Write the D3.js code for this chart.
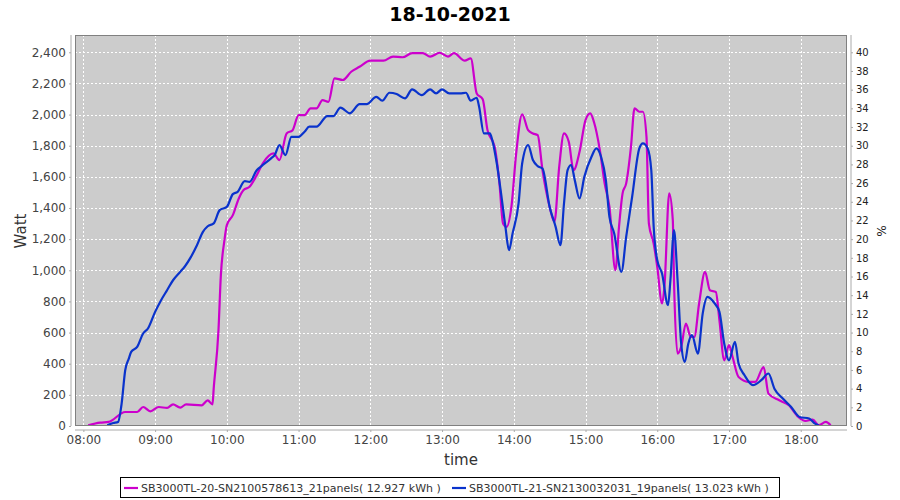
<!DOCTYPE html>
<html><head><meta charset="utf-8">
<script src="https://cdn.jsdelivr.net/npm/d3@7"></script>
<style>
body{margin:0;background:#fff;}
svg text{font-family:"DejaVu Sans",sans-serif;}
</style></head>
<body><svg id="c" width="900" height="500"></svg>
<script>
const title = "18-10-2021";
const seriesNames = ["SB3000TL-20-SN2100578613_21panels( 12.927 kWh )","SB3000TL-21-SN2130032031_19panels( 13.023 kWh )"];
const seriesColors = ["#cc00cc","#0a33cc"];
const magTimes = ["08:04","08:14","08:21","08:35","08:45","08:50","08:56","09:03","09:10","09:15","09:21","09:26","09:39","09:44","09:48","09:49","09:53","09:55","09:58","10:00","10:05","10:10","10:14","10:19","10:25","10:30","10:39","10:44","10:50","10:55","11:00","11:05","11:10","11:15","11:20","11:25","11:30","11:37","11:44","11:51","12:00","12:11","12:19","12:27","12:35","12:44","12:50","12:58","13:05","13:10","13:19","13:24","13:29","13:34","13:38","13:44","13:48","13:51","13:54","13:58","14:02","14:07","14:12","14:16","14:20","14:24","14:30","14:34","14:38","14:42","14:46","14:50","14:55","15:00","15:04","15:07","15:12","15:16","15:20","15:25","15:28","15:31","15:34","15:38","15:41","15:45","15:48","15:51","15:53","15:57","16:00","16:04","16:06","16:10","16:13","16:14","16:17","16:20","16:24","16:28","16:31","16:35","16:40","16:44","16:49","16:52","16:56","17:00","17:03","17:08","17:17","17:22","17:29","17:33","17:42","17:50","17:58","18:04","18:10","18:15","18:21","18:25"];
const magWatts = [5,22,26,90,90,122,94,122,116,139,118,139,133,165,139,240,615,969,1193,1290,1354,1461,1515,1536,1611,1686,1751,1708,1879,1900,1997,1997,2040,2040,2093,2082,2233,2222,2275,2307,2346,2346,2372,2368,2394,2394,2372,2397,2372,2394,2346,2361,2136,2098,1900,1793,1558,1301,1279,1407,1751,2001,1900,1879,1868,1643,1407,1311,1665,1879,1825,1643,1761,1965,2008,1954,1772,1558,1407,1001,1279,1494,1558,1793,2040,2018,2018,1857,1300,1172,1022,787,893,1494,1322,936,465,508,658,572,572,787,990,872,861,679,422,519,443,315,283,283,379,208,165,133,58,32,41,5,26,5];
const bluTimes = ["08:20","08:25","08:29","08:32","08:35","08:38","08:40","08:45","08:50","08:54","09:00","09:05","09:10","09:15","09:21","09:25","09:30","09:35","09:40","09:44","09:49","09:54","10:00","10:05","10:09","10:15","10:19","10:25","10:29","10:37","10:40","10:44","10:49","10:54","11:00","11:05","11:09","11:15","11:24","11:29","11:35","11:43","11:51","11:57","12:05","12:10","12:16","12:22","12:29","12:35","12:43","12:50","12:55","13:00","13:06","13:15","13:20","13:24","13:29","13:31","13:35","13:40","13:42","13:46","13:49","13:53","13:56","13:59","14:04","14:07","14:12","14:16","14:20","14:24","14:30","14:35","14:39","14:42","14:45","14:48","14:51","14:55","14:59","15:05","15:09","15:13","15:17","15:20","15:24","15:30","15:34","15:39","15:45","15:48","15:52","15:55","15:57","16:00","16:04","16:09","16:11","16:14","16:17","16:20","16:23","16:26","16:29","16:34","16:38","16:42","16:48","16:52","16:56","17:00","17:05","17:08","17:13","17:20","17:27","17:33","17:38","17:45","17:52","17:59","18:07","18:12","18:15"];
const bluWatts = [5,19,26,144,358,433,476,508,594,626,733,808,872,936,990,1026,1086,1161,1247,1283,1301,1386,1407,1489,1504,1573,1568,1643,1669,1719,1740,1804,1740,1857,1857,1890,1922,1922,1990,1990,2044,2008,2067,2067,2114,2089,2140,2132,2104,2162,2125,2162,2136,2162,2136,2136,2140,2089,2108,2050,1879,1879,1836,1676,1515,1279,1129,1237,1429,1686,1804,1708,1669,1654,1407,1279,1161,1429,1643,1676,1579,1461,1600,1729,1783,1729,1579,1343,1237,990,1215,1472,1783,1815,1783,1643,1280,1065,979,776,936,1258,936,530,411,530,583,465,722,829,787,733,530,422,540,401,326,262,294,337,240,176,122,58,48,15,5];
const xTicks = ["08:00","09:00","10:00","11:00","12:00","13:00","14:00","15:00","16:00","17:00","18:00"];
const yTicks = [0,200,400,600,800,1000,1200,1400,1600,1800,2000,2200,2400];
const pctTicks = [0,2,4,6,8,10,12,14,16,18,20,22,24,26,28,30,32,34,36,38,40];

const toMin = s => { const [h,m] = s.split(":").map(Number); return h*60+m; };
const L = 75, R = 847, T = 35, B = 426;
const svg = d3.select("#c");
const x = d3.scaleLinear().domain([toMin("07:53"), toMin("18:38") + 0.7]).range([L, R]);
const wMax = 2511;
const y = d3.scaleLinear().domain([0, wMax]).range([B, T]);
const yP = d3.scaleLinear().domain([0, wMax/60]).range([B, T]);

svg.append("text").attr("x",450).attr("y",21).attr("text-anchor","middle")
  .attr("font-size","19px").attr("font-weight","bold").attr("fill","#000").text(title);

svg.append("rect").attr("x",L).attr("y",T).attr("width",R-L).attr("height",B-T).attr("fill","#cccccc");

const grid = svg.append("g").attr("stroke","#ffffff").attr("stroke-width",1).attr("stroke-dasharray","2,2");
xTicks.forEach(t => { const px = Math.round(x(toMin(t)))+0.5; grid.append("line").attr("x1",px).attr("x2",px).attr("y1",T).attr("y2",B); });
yTicks.forEach(v => { const py = Math.round(y(v))+0.5; grid.append("line").attr("x1",L).attr("x2",R).attr("y1",py).attr("y2",py); });

const line = d3.line().curve(d3.curveMonotoneX).x(d => x(d[0])).y(d => y(d[1]));
svg.append("clipPath").attr("id","pc").append("rect").attr("x",L).attr("y",T).attr("width",R-L).attr("height",B-T);
const series = [[magTimes,magWatts],[bluTimes,bluWatts]];
series.forEach(([ts,ws],i) => {
  const data = ts.map((t,j) => [toMin(t), ws[j]]);
  svg.append("path").attr("d", line(data)).attr("fill","none").attr("stroke",seriesColors[i])
    .attr("stroke-width",2.2).attr("stroke-linejoin","round").attr("clip-path","url(#pc)");
});

svg.append("rect").attr("x",L+0.5).attr("y",T+0.5).attr("width",R-L-1).attr("height",B-T-1)
  .attr("fill","none").attr("stroke","#808080").attr("stroke-width",1);

// left axis
const yAxis = d3.axisLeft(y).tickValues(yTicks).tickFormat(d3.format(",")).tickSize(2).tickPadding(3);
const gy = svg.append("g").attr("transform",`translate(${L-4},0)`).call(yAxis);
gy.select(".domain").attr("stroke","#aaaaaa").attr("d",`M0,${T}V${B}`);
gy.selectAll(".tick line").attr("stroke","#aaaaaa");
gy.selectAll("text").attr("font-size","12px").attr("fill","#444");

// right axis
const pAxis = d3.axisRight(yP).tickValues(pctTicks).tickSize(2).tickPadding(3);
const gp = svg.append("g").attr("transform",`translate(${R+4},0)`).call(pAxis);
gp.select(".domain").attr("stroke","#aaaaaa").attr("d",`M0,${T}V${B}`);
gp.selectAll(".tick line").attr("stroke","#aaaaaa");
gp.selectAll("text").attr("font-size","10px").attr("fill","#222").attr("font-family","Liberation Sans, sans-serif");

// x axis
const xAxis = d3.axisBottom(x).tickValues(xTicks.map(toMin)).tickFormat((d,i) => xTicks[i]).tickSize(2).tickPadding(3);
const gx = svg.append("g").attr("transform",`translate(0,${B+4})`).call(xAxis);
gx.select(".domain").attr("stroke","#aaaaaa").attr("d",`M${L},0H${R}`);
gx.selectAll(".tick line").attr("stroke","#aaaaaa");
gx.selectAll("text").attr("font-size","12px").attr("fill","#444");

svg.append("text").attr("transform","translate(26,231) rotate(-90)").attr("text-anchor","middle")
  .attr("font-size","15px").attr("fill","#333").text("Watt");
svg.append("text").attr("x",461).attr("y",465).attr("text-anchor","middle")
  .attr("font-size","15px").attr("fill","#333").text("time");
svg.append("text").attr("transform","translate(877,231) rotate(90)").attr("text-anchor","middle")
  .attr("font-size","12px").attr("fill","#222").text("%");

// legend
const lg = svg.append("g");
lg.append("rect").attr("x",120.5).attr("y",477.5).attr("width",659).attr("height",20).attr("fill","#fff").attr("stroke","#000");
const items = [[124,141],[452,469]];
items.forEach(([lx,tx],i) => {
  lg.append("line").attr("x1",lx).attr("x2",lx+14).attr("y1",488).attr("y2",488).attr("stroke",seriesColors[i]).attr("stroke-width",2.2);
  lg.append("text").attr("x",tx).attr("y",492).attr("font-size","11px").attr("fill","#333").text(seriesNames[i]);
});
</script></body></html>
